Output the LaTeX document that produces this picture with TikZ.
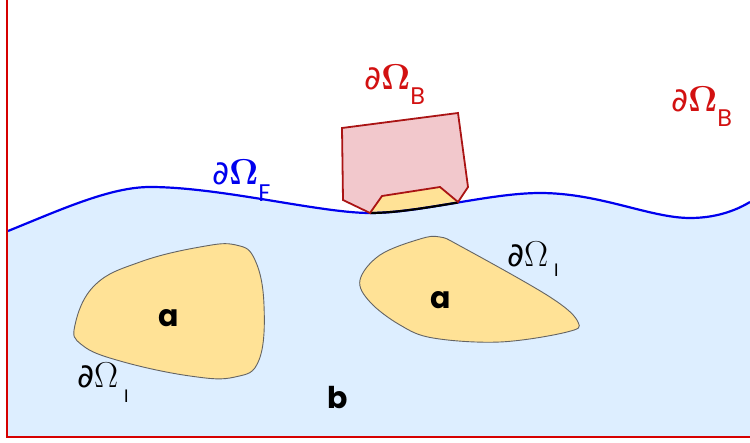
\RequirePackage{fix-cm}
\documentclass[tikz,border=0pt]{standalone}
\usepackage[no-math]{fontspec}
\setsansfont{Poppins}
\newfontfamily\pdfont{DejaVu Sans}
\newcommand{\pd}{{\pdfont\fontsize{33}{40}\selectfont ∂}}
\begin{document}
\begin{tikzpicture}[x=1pt,y=-1pt,
  lbl/.style={anchor=base west,inner sep=0pt,outer sep=0pt},
  blob/.style={fill=blobyellow,draw=blobedge,line width=0.9pt},
  letter/.style={inner sep=0pt,font=\fontsize{30}{36}\selectfont\sffamily\bfseries}]
\definecolor{water}{RGB}{221,238,255}
\definecolor{blobyellow}{RGB}{255,226,150}
\definecolor{blobedge}{RGB}{100,100,100}
\definecolor{bodypink}{RGB}{242,200,204}
\definecolor{bodyedge}{RGB}{170,20,20}
\definecolor{framered}{RGB}{214,0,0}
\definecolor{labelred}{RGB}{210,17,17}
\definecolor{waveblue}{RGB}{0,0,238}
\useasboundingbox (0,0) rectangle (750,443);
\def\wave{(8,231) .. controls (60,210) and (110,187) .. (150,187)
  .. controls (220,187) and (320,213) .. (370,213)
  .. controls (420,213) and (490,193) .. (540,193)
  .. controls (600,193) and (650,218) .. (690,218)
  .. controls (720,218) and (740,208) .. (750,202)}
% water
\fill[water] \wave -- (750,437) -- (8,437) -- cycle;
% yellow wetted part under the body
\begin{scope}
  \clip (8,0) -- \wave -- (750,0) -- cycle;
  \fill[blobyellow] (370,213) -- (382,196) -- (440,187) -- (458,202) -- (458,230) -- (370,230) -- cycle;
\end{scope}
% free surface
\draw[waveblue,line width=2.2pt] \wave;
\begin{scope}
  \clip (370,0) rectangle (458,443);
  \draw[black,line width=2.2pt] \wave;
\end{scope}
% floating body
\draw[fill=bodypink,draw=bodyedge,line width=1.8pt,line join=miter]
  (342,128) -- (458,113) -- (468,187) -- (458,202) -- (440,187)
  -- (382,196) -- (370,213) -- (343,200) -- cycle;
% inclusions
\draw[blob] plot[smooth cycle,tension=0.7] coordinates {(75,325) (95,285) (140,262) (200,247) (236,245) (255,260) (264,305) (259,360) (235,377) (190,376) (120,361) (82,345)};
\draw[blob] plot[smooth cycle,tension=0.6] coordinates {(360,280) (380,255) (420,239) (440,237) (462,247) (550,297) (578,322) (567,332) (500,342) (433,338) (400,325) (370,302)};
% frame
\draw[framered,line width=2pt] (7,0) -- (7,437) -- (750,437);
% letters
\node[letter] (a1) at (169,318) {a};
\node[letter] (a2) at (441,300) {a};
\node[letter] (b1) at (338,398) {b};
% labels
\node[lbl,text=labelred] (lb1) at (364,90) {\pd\fontsize{36}{42}\selectfont$\mathbf{\Omega}$\raisebox{-15pt}{\fontsize{24}{28}\selectfont\sffamily B}};
\node[lbl,text=labelred] (lb2) at (671,112) {\pd\fontsize{36}{42}\selectfont$\mathbf{\Omega}$\raisebox{-15pt}{\fontsize{24}{28}\selectfont\sffamily B}};
\node[lbl,text=waveblue] (lf) at (212,185) {\pd\fontsize{36}{42}\selectfont$\mathbf{\Omega}$\raisebox{-17pt}{\fontsize{24}{28}\selectfont\sffamily F}};
\node[lbl] (li1) at (507,267) {\pd\fontsize{36}{42}\selectfont$\Omega$\,\raisebox{-10pt}{\fontsize{18}{22}\selectfont\sffamily I}};
\node[lbl] (li2) at (77,388) {\pd\fontsize{36}{42}\selectfont$\Omega$\,\raisebox{-15pt}{\fontsize{18}{22}\selectfont\sffamily I}};
\end{tikzpicture}
\end{document}
